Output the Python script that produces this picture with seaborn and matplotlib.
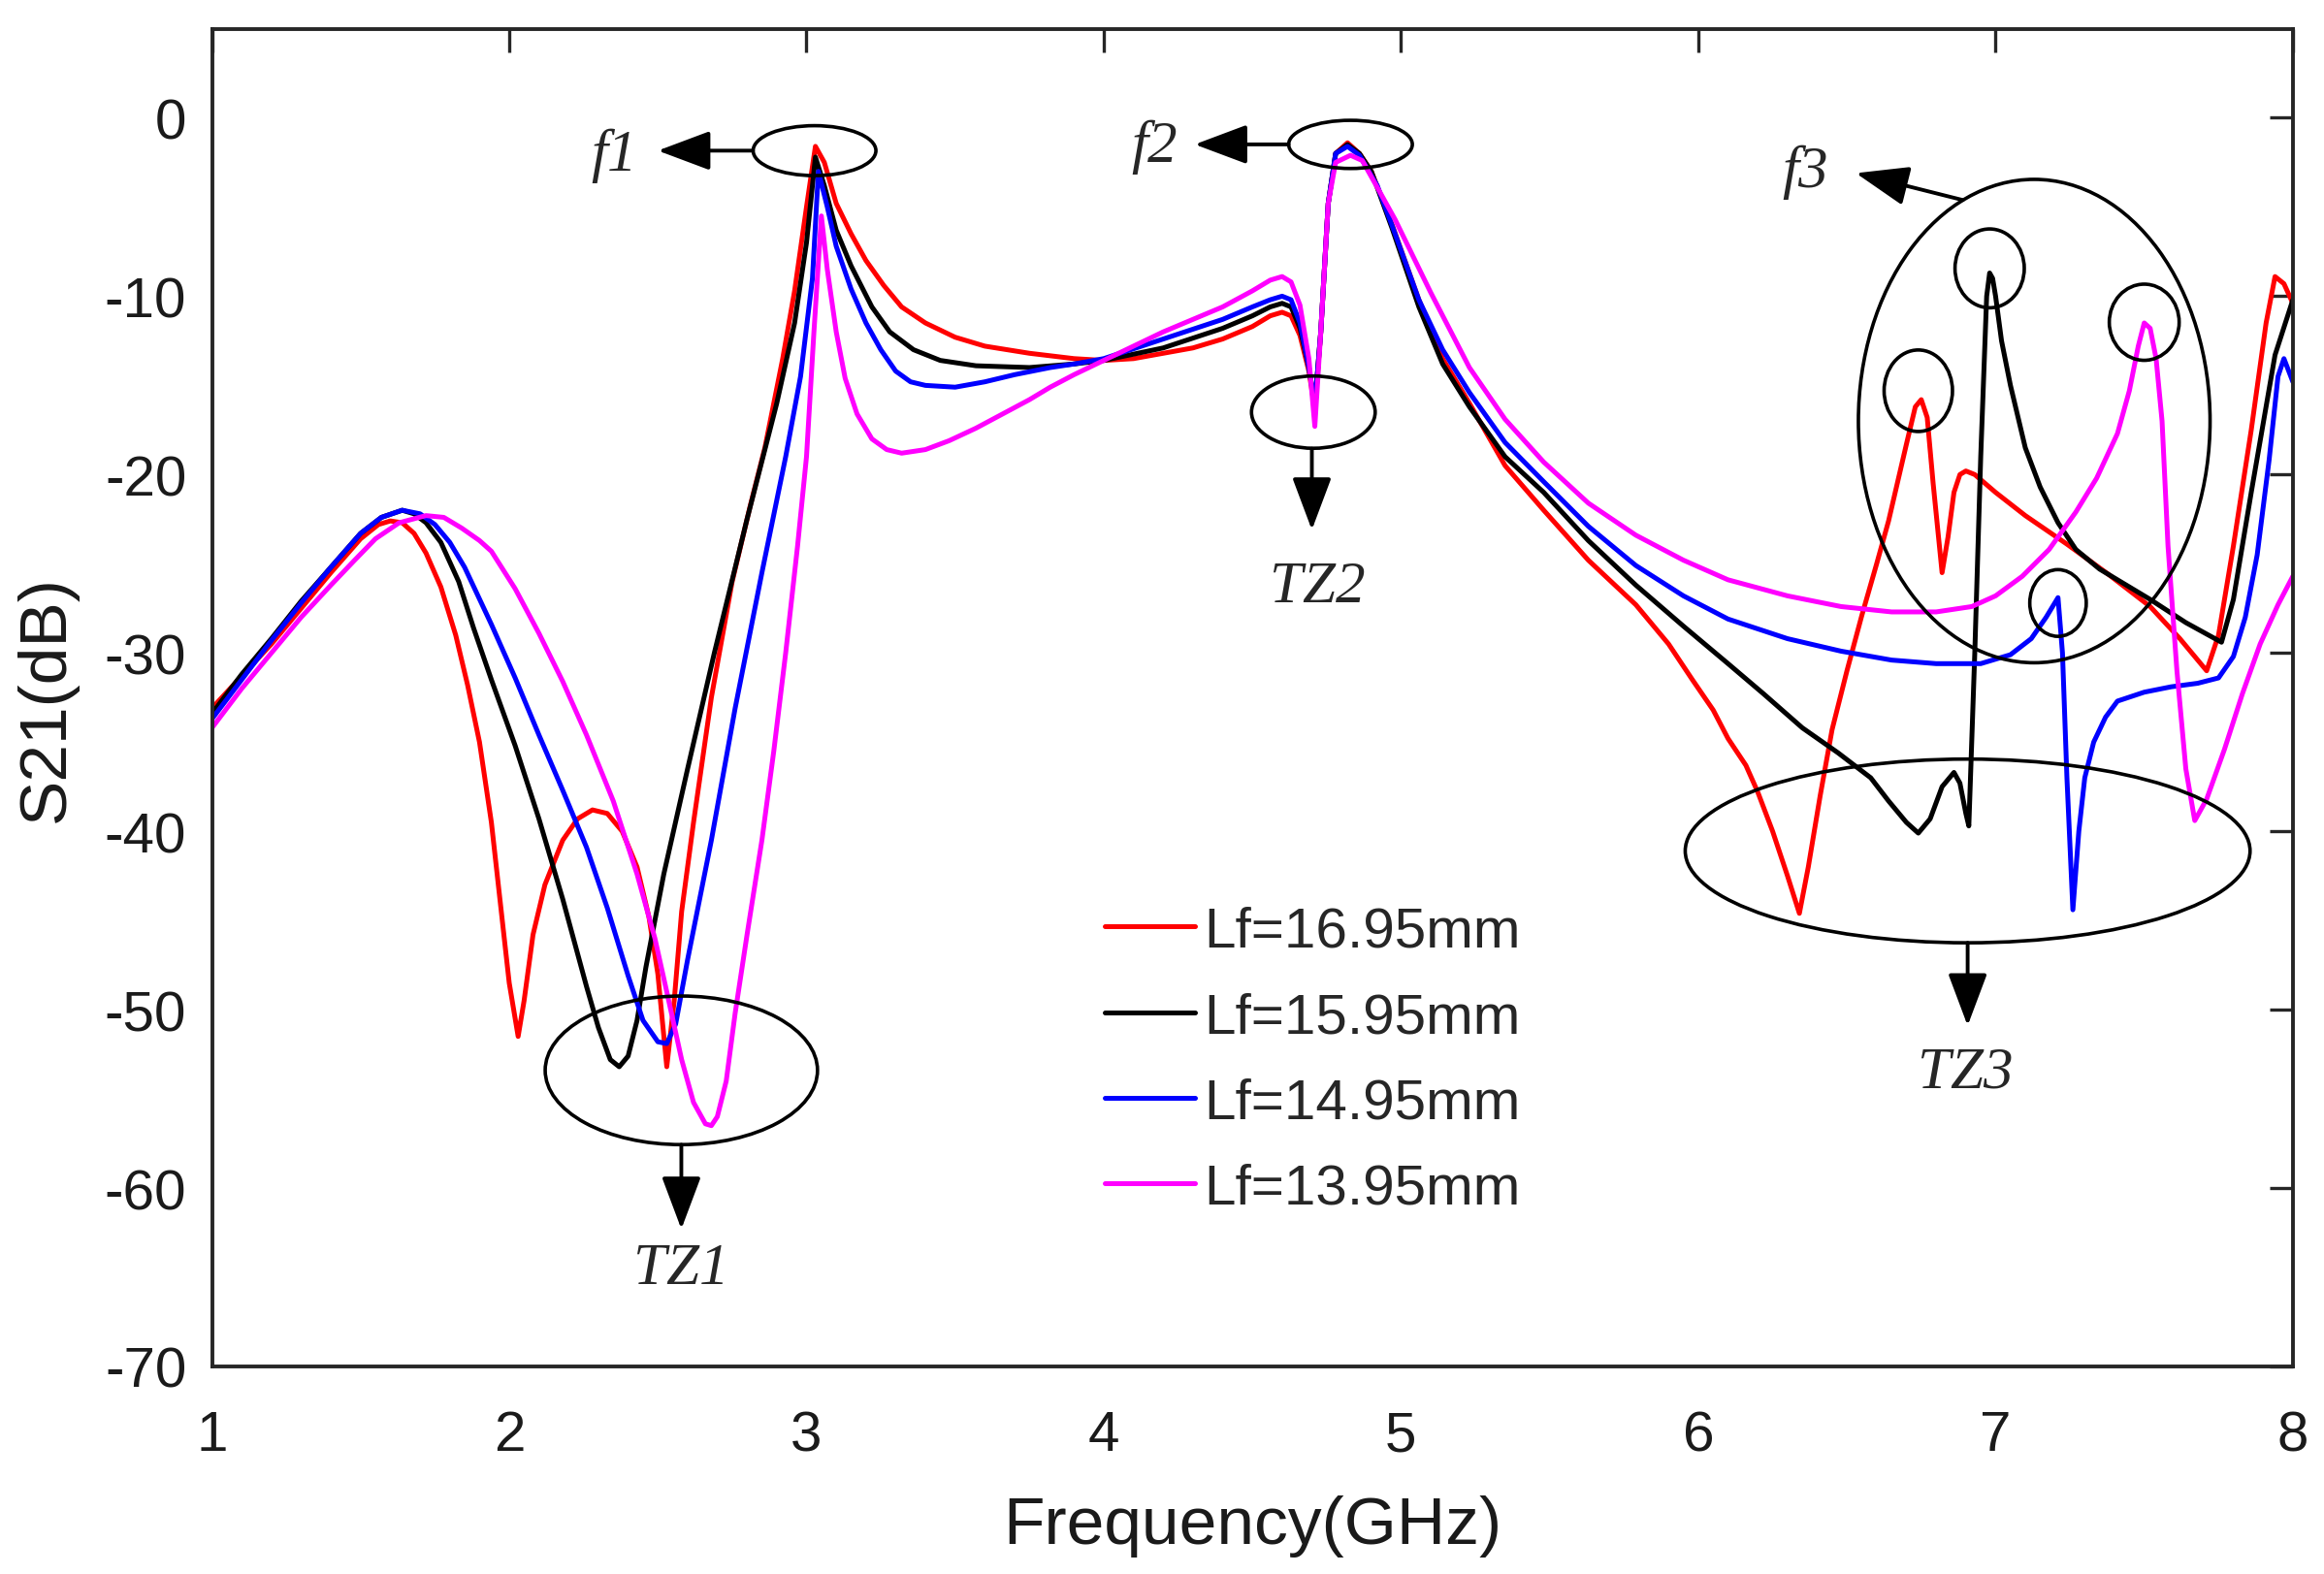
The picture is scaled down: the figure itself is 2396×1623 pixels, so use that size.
import matplotlib
matplotlib.use("Agg")
import matplotlib.pyplot as plt
from matplotlib.patches import Ellipse
import pandas as pd
import seaborn as sns

# S21 curves, one pair of lists per strip length
labels = ["Lf=16.95mm", "Lf=15.95mm", "Lf=14.95mm", "Lf=13.95mm"]
colors = ["#ff0000", "#000000", "#0000ff", "#ff00ff"]

red_freq = [1.00, 1.10, 1.20, 1.30, 1.40, 1.50, 1.56, 1.60, 1.64, 1.68, 1.72, 1.77, 1.82, 1.86,
            1.90, 1.94, 1.97, 2.00, 2.03, 2.05, 2.08, 2.12, 2.18, 2.23, 2.28, 2.33, 2.38, 2.43,
            2.47, 2.50, 2.53, 2.555, 2.58, 2.62, 2.68, 2.75, 2.81, 2.86, 2.92, 2.96, 3.00, 3.03,
            3.06, 3.10, 3.15, 3.20, 3.26, 3.32, 3.40, 3.50, 3.60, 3.75, 3.90, 4.00, 4.10, 4.20,
            4.30, 4.40, 4.50, 4.56, 4.60, 4.63, 4.66, 4.69, 4.71, 4.73, 4.755, 4.78, 4.82, 4.86,
            4.90, 4.97, 5.06, 5.14, 5.23, 5.35, 5.48, 5.63, 5.79, 5.90, 5.98, 6.05, 6.10, 6.16,
            6.20, 6.25, 6.30, 6.34, 6.37, 6.41, 6.45, 6.50, 6.55, 6.60, 6.64, 6.70, 6.73, 6.75,
            6.77, 6.79, 6.82, 6.84, 6.86, 6.88, 6.90, 6.93, 7.00, 7.10, 7.24, 7.38, 7.52, 7.62,
            7.71, 7.75, 7.80, 7.86, 7.91, 7.94, 7.97, 8.00]
red_s21 = [-33.1, -31.3, -29.5, -27.5, -25.5, -23.6, -22.8, -22.6, -22.7, -23.3, -24.4, -26.3, -29.0, -31.8,
           -35.0, -39.5, -44.0, -48.5, -51.5, -49.5, -45.8, -43.0, -40.5, -39.3, -38.8, -39.0, -40.0, -42.0,
           -44.8, -48.0, -53.2, -49.5, -44.5, -39.5, -32.5, -26.0, -21.8, -18.5, -13.5, -9.7, -5.0, -1.6,
           -2.5, -4.8, -6.5, -8.0, -9.4, -10.6, -11.5, -12.3, -12.8, -13.2, -13.5, -13.6, -13.5, -13.2,
           -12.9, -12.4, -11.7, -11.1, -10.9, -11.1, -12.2, -14.2, -16.3, -12.0, -4.8, -2.0, -1.4, -2.0,
           -3.0, -6.0, -10.2, -13.5, -16.0, -19.5, -22.0, -24.8, -27.3, -29.5, -31.5, -33.2, -34.8, -36.3,
           -37.8, -40.0, -42.5, -44.6, -42.0, -38.0, -34.3, -31.0, -27.9, -25.0, -22.6, -18.3, -16.2, -15.8,
           -16.8, -20.5, -25.5, -23.5, -21.0, -20.0, -19.8, -20.0, -21.0, -22.3, -23.9, -25.6, -27.4, -29.2,
           -31.0, -29.0, -24.0, -17.5, -11.5, -8.9, -9.3, -10.4]

black_freq = [1.00, 1.10, 1.20, 1.30, 1.40, 1.50, 1.57, 1.64, 1.68, 1.72, 1.77, 1.83, 1.88, 1.94,
              2.02, 2.10, 2.18, 2.26, 2.30, 2.34, 2.37, 2.40, 2.43, 2.46, 2.52, 2.60, 2.69, 2.80,
              2.90, 2.96, 3.00, 3.03, 3.06, 3.10, 3.15, 3.22, 3.28, 3.36, 3.45, 3.57, 3.75, 3.90,
              4.00, 4.20, 4.40, 4.50, 4.56, 4.60, 4.63, 4.66, 4.69, 4.71, 4.73, 4.755, 4.78, 4.82,
              4.86, 4.90, 4.97, 5.06, 5.14, 5.23, 5.35, 5.48, 5.63, 5.79, 5.95, 6.10, 6.22, 6.35,
              6.47, 6.58, 6.64, 6.70, 6.74, 6.78, 6.82, 6.86, 6.88, 6.90, 6.91, 6.93, 6.95, 6.97,
              6.98, 6.99, 7.00, 7.02, 7.05, 7.10, 7.15, 7.21, 7.27, 7.35, 7.45, 7.52, 7.64, 7.76,
              7.80, 7.86, 7.94, 8.00]
black_s21 = [-33.4, -31.2, -29.2, -27.1, -25.2, -23.3, -22.4, -22.0, -22.2, -22.7, -23.8, -26.0, -28.6, -31.5,
             -35.2, -39.3, -43.8, -48.7, -51.0, -52.8, -53.2, -52.6, -50.6, -47.6, -42.4, -36.5, -30.0, -22.5,
             -16.0, -11.5, -7.0, -2.2, -3.8, -6.3, -8.3, -10.6, -12.0, -13.0, -13.6, -13.9, -14.0, -13.8,
             -13.6, -12.9, -11.8, -11.1, -10.6, -10.4, -10.6, -11.8, -14.0, -16.1, -12.0, -4.8, -2.0, -1.5,
             -2.0, -3.0, -6.2, -10.6, -13.8, -16.2, -19.0, -21.0, -23.7, -26.2, -28.5, -30.6, -32.3, -34.2,
             -35.6, -37.0, -38.3, -39.5, -40.1, -39.3, -37.5, -36.7, -37.3, -39.0, -39.7, -30.0, -19.0, -10.0,
             -8.7, -9.0, -10.0, -12.5, -15.0, -18.5, -20.7, -22.7, -24.2, -25.3, -26.3, -27.0, -28.3, -29.4,
             -27.0, -21.0, -13.3, -10.2]

blue_freq = [1.00, 1.10, 1.20, 1.30, 1.40, 1.50, 1.57, 1.64, 1.70, 1.75, 1.80, 1.85, 1.94, 2.02,
             2.10, 2.18, 2.26, 2.33, 2.40, 2.45, 2.50, 2.53, 2.56, 2.60, 2.68, 2.76, 2.85, 2.93,
             2.98, 3.02, 3.04, 3.07, 3.10, 3.15, 3.20, 3.25, 3.30, 3.35, 3.40, 3.50, 3.60, 3.70,
             3.82, 3.90, 4.00, 4.20, 4.40, 4.50, 4.56, 4.60, 4.63, 4.66, 4.69, 4.71, 4.73, 4.755,
             4.78, 4.82, 4.86, 4.92, 4.98, 5.06, 5.14, 5.23, 5.35, 5.48, 5.63, 5.79, 5.95, 6.10,
             6.30, 6.48, 6.65, 6.80, 6.95, 7.05, 7.12, 7.17, 7.21, 7.225, 7.24, 7.26, 7.28, 7.30,
             7.33, 7.37, 7.41, 7.50, 7.59, 7.68, 7.75, 7.80, 7.84, 7.88, 7.92, 7.95, 7.97, 8.00]
blue_s21 = [-33.7, -31.5, -29.3, -27.2, -25.2, -23.3, -22.4, -22.0, -22.2, -22.8, -23.8, -25.2, -28.4, -31.4,
            -34.6, -37.7, -40.9, -44.3, -48.1, -50.6, -51.8, -51.9, -50.8, -47.2, -40.5, -33.1, -25.5, -19.0,
            -14.5, -9.0, -3.0, -5.0, -7.2, -9.6, -11.5, -13.0, -14.2, -14.8, -15.0, -15.1, -14.8, -14.4,
            -14.0, -13.8, -13.5, -12.4, -11.3, -10.6, -10.2, -10.0, -10.2, -11.5, -14.0, -16.1, -12.0, -4.8,
            -2.0, -1.6, -2.1, -3.8, -6.5, -10.2, -13.0, -15.4, -18.2, -20.4, -22.9, -25.1, -26.8, -28.1,
            -29.2, -29.9, -30.4, -30.6, -30.6, -30.1, -29.2, -28.0, -26.9, -30.0, -37.0, -44.4, -40.0, -37.0,
            -35.0, -33.6, -32.7, -32.2, -31.9, -31.7, -31.4, -30.2, -28.0, -24.5, -19.2, -14.5, -13.5, -14.8]

magenta_freq = [1.00, 1.10, 1.20, 1.30, 1.40, 1.48, 1.55, 1.63, 1.72, 1.78, 1.84, 1.90, 1.94, 2.02,
                2.10, 2.18, 2.26, 2.35, 2.43, 2.49, 2.53, 2.58, 2.62, 2.66, 2.68, 2.70, 2.73, 2.76,
                2.80, 2.85, 2.89, 2.93, 2.97, 3.00, 3.025, 3.05, 3.07, 3.10, 3.13, 3.17, 3.22, 3.27,
                3.32, 3.40, 3.48, 3.57, 3.66, 3.75, 3.82, 3.90, 4.00, 4.10, 4.20, 4.30, 4.40, 4.50,
                4.56, 4.60, 4.63, 4.66, 4.69, 4.71, 4.73, 4.755, 4.78, 4.83, 4.87, 4.92, 4.98, 5.10,
                5.23, 5.35, 5.48, 5.63, 5.79, 5.95, 6.10, 6.30, 6.48, 6.65, 6.80, 6.92, 7.00, 7.09,
                7.18, 7.27, 7.34, 7.41, 7.45, 7.48, 7.50, 7.52, 7.54, 7.56, 7.58, 7.61, 7.64, 7.67,
                7.71, 7.77, 7.83, 7.89, 7.95, 8.00]
magenta_s21 = [-34.2, -32.0, -30.0, -28.0, -26.2, -24.8, -23.6, -22.7, -22.3, -22.4, -23.0, -23.7, -24.3, -26.4,
               -28.9, -31.6, -34.6, -38.3, -42.4, -46.0, -49.0, -52.8, -55.2, -56.4, -56.5, -56.0, -54.0, -50.2,
               -45.8, -40.5, -35.5, -30.0, -24.0, -19.0, -12.0, -5.5, -8.5, -12.0, -14.6, -16.6, -18.0, -18.6,
               -18.8, -18.6, -18.1, -17.4, -16.6, -15.8, -15.1, -14.4, -13.6, -12.8, -12.0, -11.3, -10.6, -9.7,
               -9.1, -8.9, -9.2, -10.5, -13.5, -17.3, -12.0, -4.8, -2.5, -2.1, -2.4, -3.9, -5.7, -9.8,
               -14.0, -16.9, -19.3, -21.6, -23.4, -24.8, -25.9, -26.8, -27.4, -27.7, -27.7, -27.4, -26.8, -25.7,
               -24.2, -22.1, -20.2, -17.7, -15.3, -12.8, -11.5, -11.8, -13.5, -17.0, -24.0, -31.0, -36.5, -39.4,
               -38.2, -35.4, -32.3, -29.5, -27.3, -25.7]

series = [(red_freq, red_s21), (black_freq, black_s21), (blue_freq, blue_s21), (magenta_freq, magenta_s21)]
frames = []
for label, (freq, s21) in zip(labels, series):
    frames.append(pd.DataFrame({"freq": freq, "s21": s21, "Lf": label}))
df = pd.concat(frames, ignore_index=True)

sns.set_style("white")
plt.rcParams["font.family"] = ["Liberation Sans", "DejaVu Sans"]
plt.rcParams["axes.unicode_minus"] = False

fig = plt.figure(figsize=(11.98, 8.12), dpi=200)
ax = fig.add_axes([0.0912, 0.1318, 0.8954, 0.8494])

sns.lineplot(data=df, x="freq", y="s21", hue="Lf", hue_order=labels,
             palette=dict(zip(labels, colors)), estimator=None, sort=False,
             linewidth=1.8, ax=ax)

ax.set_xlim(1, 8)
ax.set_ylim(-70, 5)
ax.set_xticks(range(1, 9))
ax.set_yticks(range(-70, 1, 10))
ax.tick_params(axis="both", which="both", direction="in", length=8.5, width=1.2,
               top=True, right=True, labelsize=21, color="#262626", labelcolor="#1a1a1a")
ax.tick_params(axis="x", pad=16)
ax.tick_params(axis="y", pad=9.5)
for spine in ax.spines.values():
    spine.set_color("#262626")
    spine.set_linewidth(1.4)
ax.set_xlabel("Frequency(GHz)", fontsize=25, labelpad=12, color="#1a1a1a")
ax.set_ylabel("S21(dB)", fontsize=25, labelpad=10, color="#1a1a1a")

ax.legend(loc="upper left", bbox_to_anchor=(0.410, 0.374), frameon=False,
          fontsize=21, handlelength=1.6, handletextpad=0.15, labelspacing=0.585,
          borderpad=0.2)

# annotation ellipses and arrows
ann_font = dict(family=["Liberation Serif", "DejaVu Serif"], style="italic", fontsize=22)
arrow = dict(arrowstyle="-|>,head_length=0.8,head_width=0.3", color="black", lw=1.4,
             mutation_scale=21, shrinkA=0, shrinkB=0)

ellipses = [
    (3.027, -1.84, 0.413, 2.8),
    (4.83, -1.49, 0.416, 2.7),
    (4.705, -16.5, 0.416, 4.05),
    (7.13, -17.0, 1.183, 27.1),
    (6.74, -15.3, 0.23, 4.57),
    (6.98, -8.44, 0.233, 4.42),
    (7.50, -11.46, 0.235, 4.27),
    (7.21, -27.2, 0.19, 3.74),
    (6.906, -41.1, 1.90, 10.3),
    (2.579, -53.4, 0.916, 8.33),
]
for cx, cy, w, h in ellipses:
    ax.add_patch(Ellipse((cx, cy), w, h, fill=False, edgecolor="black", lw=1.3, zorder=5))

ax.annotate("", xy=(2.50, -1.84), xytext=(2.82, -1.84), arrowprops=arrow)
ax.text(2.353, -2.1, "f1", ha="center", va="center", **ann_font)
ax.annotate("", xy=(4.306, -1.49), xytext=(4.622, -1.49), arrowprops=arrow)
ax.text(4.17, -1.6, "f2", ha="center", va="center", **ann_font)
ax.annotate("", xy=(4.70, -23.1), xytext=(4.70, -18.55), arrowprops=arrow)
ax.text(4.72, -26.3, "TZ2", ha="center", va="center", **ann_font)
ax.annotate("", xy=(6.53, -3.1), xytext=(6.89, -4.61), arrowprops=arrow)
ax.text(6.36, -3.0, "f3", ha="center", va="center", **ann_font)
ax.annotate("", xy=(6.906, -50.9), xytext=(6.906, -46.25), arrowprops=arrow)
ax.text(6.90, -53.5, "TZ3", ha="center", va="center", **ann_font)
ax.annotate("", xy=(2.579, -62.3), xytext=(2.579, -57.57), arrowprops=arrow)
ax.text(2.579, -64.5, "TZ1", ha="center", va="center", **ann_font)

fig.savefig("out.png", dpi=200)
